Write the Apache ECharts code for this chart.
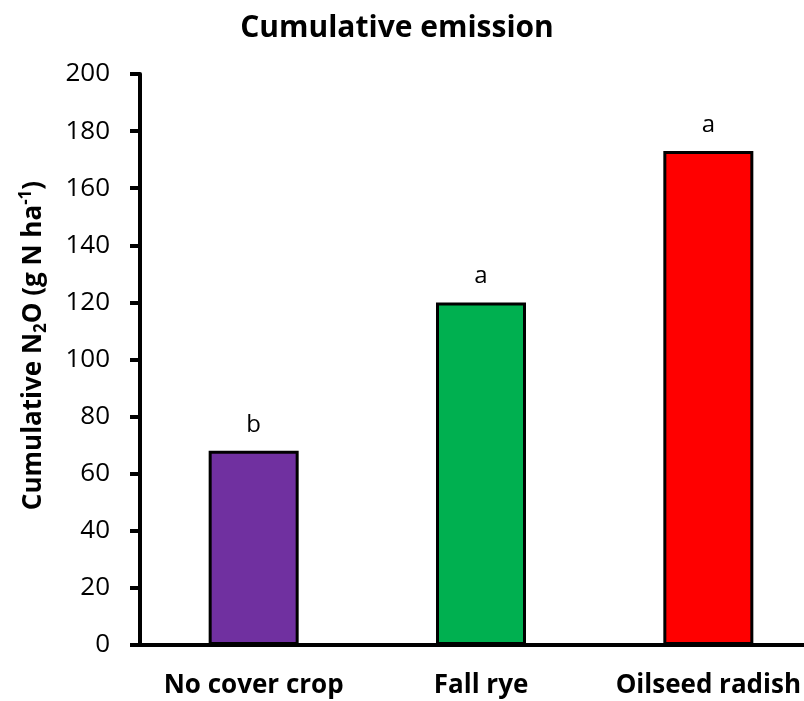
<!DOCTYPE html>
<html>
<head>
<meta charset="utf-8">
<script src="https://cdn.jsdelivr.net/npm/echarts@6/dist/echarts.min.js"></script>
<style>html,body{margin:0;padding:0;background:#fff;}#c{width:804px;height:701px;}</style>
</head>
<body>
<div id="c"></div>
<script>
const categories = ['No cover crop', 'Fall rye', 'Oilseed radish'];
const values = [68, 120, 173];
const letters = ['b', 'a', 'a'];
const colors = ['#7030A0', '#00B050', '#FF0000'];
const yTicks = [0, 20, 40, 60, 80, 100, 120, 140, 160, 180, 200];

const FONT = '"Open Sans", "Noto Sans", sans-serif';
const chart = echarts.init(document.getElementById('c'));
chart.setOption({
  animation: false,
  backgroundColor: '#fff',
  title: {
    text: 'Cumulative emission',
    left: 392, top: 8, textAlign: 'center',
    textStyle: { fontFamily: FONT, fontWeight: 'bold', fontSize: 30, color: '#000' }
  },
  grid: { left: 140, top: 74, right: -18, bottom: 56, outerBoundsMode: 'none', containLabel: false },
  xAxis: {
    type: 'category',
    data: categories,
    axisLine: { lineStyle: { color: '#000', width: 4 } },
    axisTick: { show: false },
    axisLabel: { interval: 0, hideOverlap: false, fontFamily: FONT, fontWeight: 'bold', fontSize: 26, color: '#000', margin: 28 }
  },
  yAxis: {
    type: 'value',
    min: yTicks[0], max: yTicks[yTicks.length - 1], interval: 20,
    splitLine: { show: false },
    axisLine: { show: true, lineStyle: { color: '#000', width: 4 } },
    axisTick: { show: true, length: 10, lineStyle: { color: '#000', width: 4 } },
    axisLabel: { fontFamily: FONT, fontSize: 26, color: '#000', margin: 30 },
    name: '{a|Cumulative N}{sub|2}{a|O (g N ha}{sup|-1}{a|)}',
    nameLocation: 'middle',
    nameRotate: 90,
    nameGap: 90,
    nameTextStyle: {
      padding: [0, 0, 0, 28],
      rich: {
        a: { fontFamily: FONT, fontWeight: 'bold', fontSize: 26, color: '#000', lineHeight: 32 },
        sub: { fontFamily: FONT, fontWeight: 'bold', fontSize: 17, color: '#000', verticalAlign: 'bottom', lineHeight: 32 },
        sup: { fontFamily: FONT, fontWeight: 'bold', fontSize: 17, color: '#000', verticalAlign: 'top', lineHeight: 32 }
      }
    }
  },
  series: [{
    type: 'bar',
    barWidth: 90,
    data: values.map((v, i) => ({
      value: v,
      itemStyle: { color: colors[i], borderColor: '#000', borderWidth: 3 },
      label: { formatter: letters[i] }
    })),
    label: {
      show: true, position: 'top', distance: 14,
      fontFamily: FONT, fontSize: 24, color: '#000'
    }
  }]
});
</script>
</body>
</html>
